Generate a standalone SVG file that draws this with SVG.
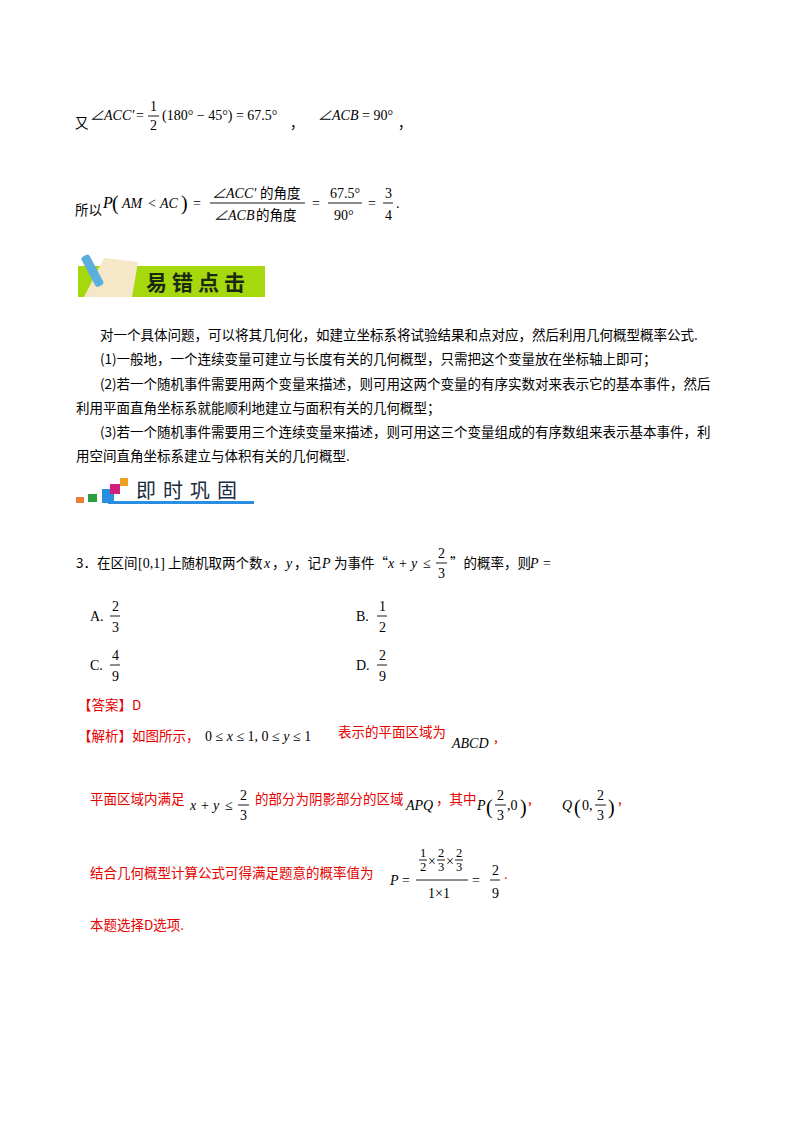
<svg xmlns="http://www.w3.org/2000/svg" width="800" height="1132" viewBox="0 0 800 1132">
<style>
text{font-family:"Liberation Serif","Noto Sans CJK SC",serif;font-size:14px;fill:#000}
.m{font-style:italic}
.r{fill:#e60000}
.k{font-family:"Noto Sans CJK SC",sans-serif;font-size:13.5px}
.s{font-size:14px}
.xs{font-size:12.5px}
.p{font-size:20px}
line{stroke:#000;stroke-width:0.9}
</style>
<rect width="800" height="1132" fill="#fff"/>
<g id="line1">
<text x="75" y="128" class="k">又</text>
<text x="90" y="120" class="m">∠ACC′</text>
<text x="136" y="120">=</text>
<text x="150" y="111" class="s">1</text><line x1="148" y1="116" x2="159" y2="116"/><text x="150" y="130" class="s">2</text>
<text x="162" y="120">(180° − 45°) = 67.5°</text>
<text x="290" y="128" class="k">，</text>
<text x="318" y="120" class="m">∠ACB</text><text x="362" y="120">= 90°</text>
<text x="398" y="128" class="k">，</text>
</g>
<g id="line2">
<text x="75" y="215" class="k">所以</text>
<text x="103" y="208" class="m" style="font-size:16px">P</text>
<text x="112" y="210" class="p">(</text>
<text x="122" y="208" class="m">AM</text><text x="148" y="208">&lt;</text><text x="160" y="208" class="m">AC</text>
<text x="181" y="210" class="p">)</text>
<text x="193" y="208">=</text>
<text x="212" y="198" class="m">∠ACC′</text><text x="260" y="198" class="k">的角度</text>
<line x1="210" y1="203" x2="305" y2="203"/>
<text x="214" y="220" class="m">∠ACB</text><text x="256" y="220" class="k">的角度</text>
<text x="312" y="208">=</text>
<text x="330" y="198">67.5°</text><line x1="328" y1="203" x2="362" y2="203"/><text x="334" y="220">90°</text>
<text x="368" y="208">=</text>
<text x="385" y="198">3</text><line x1="383" y1="203" x2="393" y2="203"/><text x="385" y="220">4</text>
<text x="396" y="208">.</text>
</g>
<g id="banner1">
<rect x="78" y="266" width="187" height="31" fill="#a6d80e"/>
<path d="M84 297 L104 258 L138 262 L132 297 Z" fill="#f5e7c8"/>
<rect x="88" y="254" width="9" height="34" rx="3" fill="#5aaee0" transform="rotate(-28 92 271)"/>
<text x="146" y="290" style="font-family:'Noto Sans CJK SC',sans-serif;font-size:21px;font-weight:bold;fill:#1a2a10;letter-spacing:5px">易错点击</text>
</g>
<g id="paras">
<text x="100" y="340" class="k">对一个具体问题，可以将其几何化，如建立坐标系将试验结果和点对应，然后利用几何概型概率公式.</text>
<text x="100" y="364" class="k">(1)一般地，一个连续变量可建立与长度有关的几何概型，只需把这个变量放在坐标轴上即可；</text>
<text x="100" y="389" class="k">(2)若一个随机事件需要用两个变量来描述，则可用这两个变量的有序实数对来表示它的基本事件，然后</text>
<text x="76" y="413" class="k">利用平面直角坐标系就能顺利地建立与面积有关的几何概型；</text>
<text x="100" y="437" class="k">(3)若一个随机事件需要用三个连续变量来描述，则可用这三个变量组成的有序数组来表示基本事件，利</text>
<text x="76" y="461" class="k">用空间直角坐标系建立与体积有关的几何概型.</text>
</g>
<g id="banner2">
<rect x="76" y="497" width="8" height="6" fill="#e8803a"/>
<rect x="88" y="494" width="9" height="8" fill="#2aa040"/>
<rect x="102" y="489" width="12" height="14" fill="#2a8ee0"/>
<rect x="110" y="484" width="10" height="10" fill="#d0207a"/>
<rect x="120" y="478" width="8" height="8" fill="#f0a020"/>
<rect x="108" y="501" width="146" height="3" fill="#2a8ee0"/>
<text x="136" y="498" style="font-family:'Noto Sans CJK SC',sans-serif;font-size:20px;fill:#1a2a40;letter-spacing:7px">即时巩固</text>
</g>
<g id="q3">
<text x="76" y="568" class="k">3．在区间</text>
<text x="138" y="568">[0,1]</text>
<text x="168" y="568" class="k">上随机取两个数</text><text x="264" y="568" class="m">x</text><text x="272" y="568" class="k">，</text><text x="286" y="568" class="m">y</text><text x="294" y="568" class="k">，记</text><text x="322" y="568" class="m">P</text><text x="334" y="568" class="k">为事件“</text>
<text x="388" y="568" class="m">x</text><text x="399" y="568">+</text><text x="411" y="568" class="m">y</text><text x="423" y="568">≤</text>
<text x="438" y="558" class="s">2</text><line x1="436" y1="563" x2="447" y2="563"/><text x="438" y="578" class="s">3</text>
<text x="450" y="568" class="k">”的概率，则</text><text x="530" y="568" class="m">P</text><text x="543" y="568">=</text>
<text x="90" y="621">A.</text><text x="112" y="611">2</text><line x1="110" y1="616" x2="120" y2="616"/><text x="112" y="632">3</text>
<text x="356" y="621">B.</text><text x="379" y="611">1</text><line x1="377" y1="616" x2="387" y2="616"/><text x="379" y="632">2</text>
<text x="90" y="670">C.</text><text x="112" y="660">4</text><line x1="110" y1="665" x2="120" y2="665"/><text x="112" y="681">9</text>
<text x="356" y="670">D.</text><text x="379" y="660">2</text><line x1="377" y1="665" x2="387" y2="665"/><text x="379" y="681">9</text>
</g>
<g id="answer">
<text x="78" y="710" class="k r">【答案】D</text>
<text x="78" y="741" class="k r">【解析】如图所示，</text>
<text x="205" y="741">0 ≤ <tspan class="m">x</tspan> ≤ 1, 0 ≤ <tspan class="m">y</tspan> ≤ 1</text>
<text x="338" y="737" class="k r">表示的平面区域为</text>
<text x="452" y="748" class="m">ABCD</text><text x="494" y="742" class="k r">,</text>
<text x="90" y="804" class="k r">平面区域内满足</text>
<text x="190" y="810" class="m">x</text><text x="201" y="810">+</text><text x="213" y="810" class="m">y</text><text x="225" y="810">≤</text>
<text x="240" y="800" class="s">2</text><line x1="238" y1="805" x2="249" y2="805"/><text x="240" y="820" class="s">3</text>
<text x="255" y="804" class="k r">的部分为阴影部分的区域</text>
<text x="406" y="810" class="m">APQ</text><text x="436" y="804" class="k r">，其中</text>
<text x="477" y="810" class="m">P</text><text x="486" y="814" class="p">(</text>
<text x="497" y="800" class="s">2</text><line x1="495" y1="805" x2="506" y2="805"/><text x="497" y="820" class="s">3</text>
<text x="507" y="810">,0</text><text x="520" y="814" class="p">)</text><text x="528" y="804" class="k r">,</text>
<text x="562" y="810" class="m">Q</text><text x="574" y="814" class="p">(</text>
<text x="582" y="810">0,</text>
<text x="597" y="800" class="s">2</text><line x1="595" y1="805" x2="606" y2="805"/><text x="597" y="820" class="s">3</text>
<text x="608" y="814" class="p">)</text><text x="618" y="804" class="k r">,</text>
<text x="90" y="878" class="k r">结合几何概型计算公式可得满足题意的概率值为</text>
<text x="390" y="885" class="m">P</text><text x="402" y="885">=</text>
<text x="420" y="857" class="xs">1</text><line x1="419" y1="860" x2="427" y2="860"/><text x="420" y="871" class="xs">2</text>
<text x="428" y="866" class="s">×</text>
<text x="438" y="857" class="xs">2</text><line x1="437" y1="860" x2="445" y2="860"/><text x="438" y="871" class="xs">3</text>
<text x="446" y="866" class="s">×</text>
<text x="456" y="857" class="xs">2</text><line x1="455" y1="860" x2="463" y2="860"/><text x="456" y="871" class="xs">3</text>
<line x1="416" y1="880" x2="468" y2="880"/>
<text x="428" y="898">1×1</text>
<text x="472" y="885">=</text>
<text x="492" y="875">2</text><line x1="490" y1="880" x2="500" y2="880"/><text x="492" y="898">9</text>
<text x="504" y="879" class="r">.</text>
<text x="90" y="930" class="k r">本题选择D选项.</text>
</g>
</svg>
